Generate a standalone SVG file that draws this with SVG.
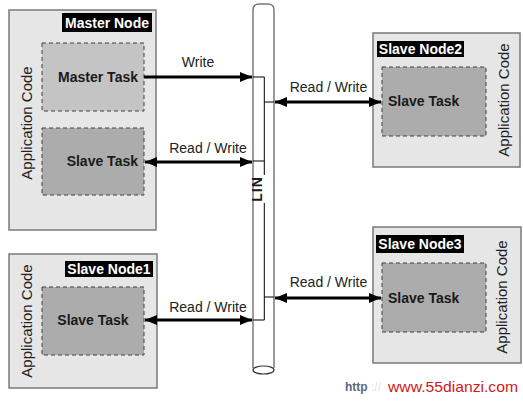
<svg xmlns="http://www.w3.org/2000/svg" width="523" height="403" viewBox="0 0 523 403">
<defs>
<style>
.outer{fill:#e6e6e6;stroke:#7a7a7a;stroke-width:1.5}
.task{stroke:#404040;stroke-width:1;stroke-dasharray:4,3}
.mt{fill:#c4c4c4}
.st{fill:#acacac}
.lab{fill:#000}
.labt{font-family:"Liberation Sans",Arial,sans-serif;font-weight:bold;font-size:14px;fill:#fff}
.tt{font-family:"Liberation Sans",Arial,sans-serif;font-weight:bold;font-size:14px;fill:#1a1a1a}
.ac{font-family:"Liberation Sans",Arial,sans-serif;font-size:15px;fill:#222;text-anchor:middle}
.cl{font-family:"Liberation Sans",Arial,sans-serif;font-size:14px;fill:#222}
.arr{stroke:#000;stroke-width:3;fill:none}
.thin{stroke:#000;stroke-width:1;fill:none}
.wall{stroke:#7a7a7a;stroke-width:1.5;fill:#fff}
</style>
<marker id="ah" viewBox="0 0 12 10" refX="12" refY="5" markerWidth="12" markerHeight="10" markerUnits="userSpaceOnUse" orient="auto-start-reverse">
<path d="M0,0 L12,5 L0,10 Z" fill="#000"/>
</marker>
</defs>
<rect width="523" height="403" fill="#fff"/>

<g id="lin-bus">
<path class="wall" d="M253,368 L253,10 Q253,4 259,4 L268,4 Q274,4 274,10 L274,368"/>
<ellipse cx="263.5" cy="370" rx="10.5" ry="4" fill="#fff" stroke="#333" stroke-width="1.2"/>
<text class="tt" transform="translate(262,189) rotate(-90)" text-anchor="middle" font-size="12" letter-spacing="1">LIN</text>
</g>

<g id="master-node">
<rect class="outer" x="9" y="10" width="147" height="220"/>
<rect class="lab" x="62" y="13" width="90" height="19"/>
<text class="labt" x="107" y="28" text-anchor="middle">Master Node</text>
<text class="ac" transform="translate(32,123) rotate(-90)">Application Code</text>
<g id="master-task">
<rect class="task mt" x="42" y="43" width="102" height="68"/>
<text class="tt" x="138" y="82" text-anchor="end">Master Task</text>
</g>
<g id="master-slave-task">
<rect class="task st" x="42" y="128" width="102" height="67"/>
<text class="tt" x="138" y="166" text-anchor="end">Slave Task</text>
</g>
</g>

<g id="slave-node2">
<rect class="outer" x="373" y="33" width="147" height="134"/>
<rect class="lab" x="377" y="41" width="87" height="16"/>
<text class="labt" x="420.5" y="54" text-anchor="middle">Slave Node2</text>
<text class="ac" transform="translate(509,100) rotate(-90)">Application Code</text>
<rect class="task st" x="382" y="67" width="104" height="69"/>
<text class="tt" x="388" y="106">Slave Task</text>
</g>

<g id="slave-node1">
<rect class="outer" x="9" y="254" width="148" height="134"/>
<rect class="lab" x="65" y="261" width="88" height="16"/>
<text class="labt" x="109" y="274" text-anchor="middle">Slave Node1</text>
<text class="ac" transform="translate(32,321) rotate(-90)">Application Code</text>
<rect class="task st" x="42" y="287" width="102" height="68"/>
<text class="tt" x="93" y="325" text-anchor="middle">Slave Task</text>
</g>

<g id="slave-node3">
<rect class="outer" x="373" y="227" width="148" height="136"/>
<rect class="lab" x="376" y="235" width="88" height="18"/>
<text class="labt" x="420" y="249" text-anchor="middle">Slave Node3</text>
<text class="ac" transform="translate(507,297) rotate(-90)">Application Code</text>
<rect class="task st" x="382" y="263" width="104" height="69"/>
<text class="tt" x="388" y="303">Slave Task</text>
</g>

<g id="connectors">
<path class="thin" d="M253,77 H264.3 V175 M264.3,203 V320 H253 M264.3,102 H274 M253,161 H264.3 M264.3,297 H274"/>
<line class="arr" x1="144" y1="77" x2="252" y2="77" marker-end="url(#ah)"/>
<line class="arr" x1="145" y1="162" x2="252" y2="162" marker-start="url(#ah)" marker-end="url(#ah)"/>
<line class="arr" x1="145" y1="320" x2="252" y2="320" marker-start="url(#ah)" marker-end="url(#ah)"/>
<line class="arr" x1="275" y1="102" x2="381" y2="102" marker-start="url(#ah)" marker-end="url(#ah)"/>
<line class="arr" x1="275" y1="298" x2="381" y2="298" marker-start="url(#ah)" marker-end="url(#ah)"/>
<text class="cl" x="198" y="67" text-anchor="middle">Write</text>
<text class="cl" x="208" y="153" text-anchor="middle">Read / Write</text>
<text class="cl" x="208" y="312" text-anchor="middle">Read / Write</text>
<text class="cl" x="328.5" y="92" text-anchor="middle">Read / Write</text>
<text class="cl" x="328.5" y="287" text-anchor="middle">Read / Write</text>
</g>

<g id="watermark">
<text x="345" y="391" font-family="'Liberation Sans',Arial,sans-serif" font-weight="bold" font-size="12" fill="#5a6878">http</text>
<text x="371" y="391" font-family="'Liberation Sans',Arial,sans-serif" font-size="12" fill="#e4e4e4">://</text>
<text x="388" y="392" font-family="'Liberation Sans',Arial,sans-serif" font-size="15" fill="#d01818" textLength="130" lengthAdjust="spacingAndGlyphs">www.55dianzi.com</text>
</g>
</svg>
